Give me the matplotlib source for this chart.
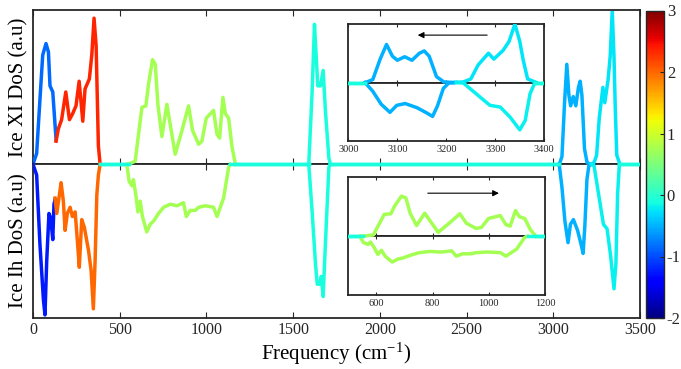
import numpy as np
import matplotlib.pyplot as plt
from matplotlib import colors, cm

plt.rcParams['font.family'] = 'Liberation Serif'
plt.rcParams['mathtext.default'] = 'regular'
plt.rcParams['axes.unicode_minus'] = False

# ---------------- data (frequency in cm-1, DoS in a.u.) ----------------
# Ice XI (upper panel), segments coloured by value on the colour scale
xi_f_a = [0, 21, 40, 56, 75, 89, 98, 114, 133]
xi_d_a = [0, 0.07, 0.42, 0.71, 0.785, 0.73, 0.51, 0.47, 0.16]
xi_f_b = [133, 146, 165, 189, 210, 229, 248, 266, 287, 300, 325, 339, 352, 364, 377, 387]
xi_d_b = [0.15, 0.23, 0.29, 0.47, 0.29, 0.33, 0.38, 0.54, 0.28, 0.49, 0.555, 0.71, 0.95, 0.77, 0.12, 0]
xi_f_c = [551, 589, 628, 651, 666, 689, 705, 720, 743, 772, 791, 820, 859, 897, 920, 955,
          974, 999, 1041, 1061, 1076, 1095, 1109, 1128, 1148, 1167]
xi_d_c = [0, 0.02, 0.37, 0.38, 0.52, 0.68, 0.65, 0.39, 0.18, 0.39, 0.26, 0.065, 0.22, 0.38, 0.22, 0.13,
          0.15, 0.30, 0.35, 0.195, 0.17, 0.435, 0.33, 0.30, 0.11, 0]
xi_f_d = [1590, 1609, 1623, 1634, 1642, 1658, 1673, 1686, 1706, 1715]
xi_d_d = [0, 0.46, 0.91, 0.68, 0.51, 0.51, 0.61, 0.35, 0.04, 0]
xi_f_e = [3035, 3050, 3065, 3078, 3090, 3100, 3115, 3130, 3145, 3155, 3165, 3180, 3195, 3215]
xi_d_e = [0, 0.05, 0.40, 0.65, 0.45, 0.38, 0.44, 0.38, 0.50, 0.54, 0.45, 0.10, 0.01, 0]
xi_f_f = [3215, 3235, 3250, 3265, 3286, 3297, 3316, 3328, 3340, 3350, 3357, 3366, 3384]
xi_d_f = [0, 0.01, 0.06, 0.30, 0.50, 0.40, 0.55, 0.70, 1.0, 0.70, 0.38, 0.06, 0]
xi_cval = [-0.85, 2.35, 0.75, -0.1, -0.5, -0.25]
xi_gap = [(387, 551), (1167, 1590), (1715, 3035), (3384, 3500)]

# Ice Ih (lower panel)
ih_f_a = [0, 21, 40, 60, 69, 79, 92, 102, 114, 121, 127]
ih_d_a = [0, -0.07, -0.52, -0.88, -0.98, -0.63, -0.32, -0.35, -0.49, -0.26, -0.23]
ih_f_b = [127, 137, 152, 162, 175, 185, 198, 214, 227, 243, 256, 267, 281, 296, 320, 335,
          348, 358, 368, 377, 387]
ih_d_b = [-0.22, -0.32, -0.2, -0.12, -0.24, -0.43, -0.32, -0.28, -0.34, -0.31, -0.50, -0.67,
          -0.36, -0.41, -0.56, -0.69, -0.94, -0.63, -0.2, -0.07, 0]
ih_f_c = [541, 554, 570, 579, 593, 605, 618, 631, 656, 676, 695, 724, 753, 791, 830, 868, 884,
          907, 936, 955, 994, 1041, 1061, 1080, 1099, 1115, 1128, 1138]
ih_d_c = [0, -0.11, -0.14, -0.10, -0.2, -0.31, -0.24, -0.34, -0.44, -0.39, -0.37, -0.32, -0.28,
          -0.26, -0.27, -0.25, -0.34, -0.30, -0.30, -0.28, -0.27, -0.28, -0.34, -0.28, -0.22,
          -0.11, -0.02, 0]
ih_f_d = [1590, 1609, 1629, 1639, 1654, 1662, 1673, 1686, 1706, 1715]
ih_d_d = [0, -0.30, -0.65, -0.78, -0.78, -0.73, -0.86, -0.52, -0.02, 0]
ih_f_e = [3034, 3050, 3067, 3085, 3099, 3116, 3140, 3160, 3172, 3182, 3194, 3205, 3220]
ih_d_e = [0, -0.15, -0.37, -0.51, -0.39, -0.36, -0.43, -0.52, -0.58, -0.40, -0.10, -0.01, 0]
ih_f_f = [3220, 3235, 3262, 3289, 3310, 3330, 3350, 3361, 3371, 3381]
ih_d_f = [0, -0.01, -0.2, -0.39, -0.42, -0.59, -0.81, -0.65, -0.19, 0]
ih_cval = [-1.25, 2.0, 0.75, -0.1, -0.5, -0.2]
ih_gap = [(387, 541), (1138, 1590), (1715, 3034), (3381, 3500)]
base_cval = -0.1

xticks_main = [0, 500, 1000, 1500, 2000, 2500, 3000, 3500]
xticks_ins_hi = [3000, 3100, 3200, 3300, 3400]
xticks_ins_lo = [600, 800, 1000, 1200]
cbar_ticks = [-2, -1, 0, 1, 2, 3]

xi_segs = list(zip([xi_f_a, xi_f_b, xi_f_c, xi_f_d, xi_f_e, xi_f_f],
                   [xi_d_a, xi_d_b, xi_d_c, xi_d_d, xi_d_e, xi_d_f], xi_cval))
ih_segs = list(zip([ih_f_a, ih_f_b, ih_f_c, ih_f_d, ih_f_e, ih_f_f],
                   [ih_d_a, ih_d_b, ih_d_c, ih_d_d, ih_d_e, ih_d_f], ih_cval))

cmap = plt.get_cmap('jet')
norm = colors.Normalize(vmin=-2, vmax=3)
frame = '#262626'

W, H = 681, 369
fig = plt.figure(figsize=(W / 100, H / 100), dpi=100)


def fbox(x0, y0, x1, y1):
    # pixel box (top-left origin) -> figure fraction rect
    return [x0 / W, 1 - y1 / H, (x1 - x0) / W, (y1 - y0) / H]


def stacked(x0, x1, ytop, ybot, xlim, ticks, lsize, tlen, lw):
    ymid = (ytop + ybot) / 2
    top = fig.add_axes(fbox(x0, ytop, x1, ymid))
    bot = fig.add_axes(fbox(x0, ymid, x1, ybot))
    for a, yl in ((top, (0, 1)), (bot, (-1, 0))):
        a.set_xlim(xlim)
        a.set_ylim(yl)
        a.set_yticks([])
        a.set_xticks(ticks)
        a.tick_params(axis='x', direction='in', top=True, bottom=True, length=tlen,
                      width=0.8, color=frame, labelsize=lsize, labelcolor=frame, pad=3)
        for s in a.spines.values():
            s.set_linewidth(lw)
            s.set_color(frame)
    top.tick_params(labelbottom=False)
    over = fig.add_axes(fbox(x0, ytop, x1, ybot))
    over.set_xlim(xlim)
    over.set_ylim(-1, 1)
    over.set_axis_off()
    for segs, gaps in ((xi_segs, xi_gap), (ih_segs, ih_gap)):
        for f, d, c in segs:
            over.plot(f, d, color=cmap(norm(c)), lw=2.5, solid_joinstyle='round')
        for g in gaps:
            over.plot(g, [0, 0], color=cmap(norm(base_cval)), lw=2.5)
    return top, bot, over


# main panels
top, bot, over = stacked(33, 640, 10.5, 318, (0, 3500), xticks_main, 11.5, 4, 1.3)
top.set_ylabel('Ice XI DoS (a.u)', fontsize=15, labelpad=3)
bot.set_ylabel('Ice Ih DoS (a.u)', fontsize=15, labelpad=3)
bot.set_xlabel('Frequency (cm$^{-1}$)', fontsize=15, labelpad=2)

# inset: O-H stretch region
t1, b1, o1 = stacked(348.3, 544.3, 24, 141, (3000, 3400), xticks_ins_hi, 7.5, 2.5, 1.3)
o1.annotate('', xy=(3136, 0.81), xytext=(3289, 0.81),
            arrowprops=dict(arrowstyle='-|>', color='k', lw=0.8, mutation_scale=9))

# inset: libration region
t2, b2, o2 = stacked(348.3, 545, 177.3, 295, (500, 1200), xticks_ins_lo, 7.5, 2.5, 1.3)
o2.annotate('', xy=(1046, 0.73), xytext=(773, 0.73),
            arrowprops=dict(arrowstyle='-|>', color='k', lw=0.8, mutation_scale=9))

# colour bar
cax = fig.add_axes(fbox(646, 10.5, 664, 318))
cb = fig.colorbar(cm.ScalarMappable(norm=norm, cmap=cmap), cax=cax, ticks=cbar_ticks)
cax.tick_params(direction='in', length=3, width=0.8, labelsize=12, color=frame,
                labelcolor=frame, pad=2)
cb.outline.set_linewidth(1.0)
cb.outline.set_edgecolor(frame)

fig.savefig('out.png', dpi=100)
